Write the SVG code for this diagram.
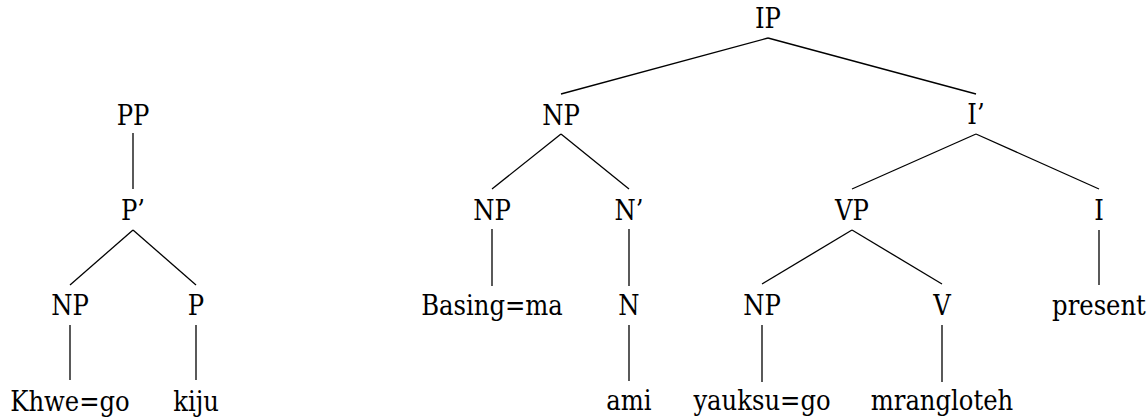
<svg xmlns="http://www.w3.org/2000/svg" width="1148" height="419" viewBox="0 0 1148 419">
  <style>
    text { font-family: "DejaVu Serif Condensed", "DejaVu Serif", serif; font-size: 27px; fill: #000; text-anchor: middle; }
    .edges line { stroke: #000; stroke-width: 1.3; fill: none; }
  </style>
  <rect width="1148" height="419" fill="#fff"/>

  <!-- connectors -->
  <g class="edges" id="edges">
    <!-- PP tree -->
    <line x1="133" y1="133" x2="133" y2="189"/>
    <line x1="133" y1="230" x2="70" y2="285"/>
    <line x1="133" y1="230" x2="196" y2="285"/>
    <line x1="70" y1="325" x2="70" y2="380"/>
    <line x1="196" y1="325" x2="196" y2="380"/>
    <!-- IP tree -->
    <line x1="768" y1="38" x2="561" y2="94"/>
    <line x1="768" y1="38" x2="976" y2="94"/>
    <line x1="561" y1="134" x2="492" y2="189"/>
    <line x1="561" y1="134" x2="629" y2="189"/>
    <line x1="976" y1="134" x2="852" y2="189"/>
    <line x1="976" y1="134" x2="1099" y2="189"/>
    <line x1="492" y1="229" x2="492" y2="286"/>
    <line x1="629" y1="229" x2="629" y2="286"/>
    <line x1="852" y1="230" x2="762" y2="284"/>
    <line x1="852" y1="230" x2="942" y2="284"/>
    <line x1="1099" y1="230" x2="1099" y2="285"/>
    <line x1="629" y1="325" x2="629" y2="381"/>
    <line x1="762" y1="325" x2="762" y2="382"/>
    <line x1="942" y1="325" x2="942" y2="382"/>
  </g>

  <!-- PP tree nodes -->
  <g id="pp"><text x="133" y="125">PP</text></g>
  <g id="p-bar"><text x="133" y="220">P’</text></g>
  <g id="pp-np"><text x="70" y="315">NP</text></g>
  <g id="pp-p"><text x="196" y="315">P</text></g>
  <g id="khwe"><text x="70" y="411">Khwe=go</text></g>
  <g id="kiju"><text x="196" y="411">kiju</text></g>

  <!-- IP tree nodes -->
  <g id="ip"><text x="768" y="28">IP</text></g>
  <g id="ip-np"><text x="561" y="125">NP</text></g>
  <g id="i-bar"><text x="976" y="124">I’</text></g>
  <g id="np-np"><text x="492" y="220">NP</text></g>
  <g id="n-bar"><text x="629" y="220">N’</text></g>
  <g id="vp"><text x="852" y="220">VP</text></g>
  <g id="infl"><text x="1099" y="220">I</text></g>
  <g id="basing"><text x="492" y="315">Basing=ma</text></g>
  <g id="noun"><text x="629" y="315">N</text></g>
  <g id="vp-np"><text x="762" y="315">NP</text></g>
  <g id="verb"><text x="942" y="315">V</text></g>
  <g id="present"><text x="1099" y="315">present</text></g>
  <g id="ami"><text x="629" y="410">ami</text></g>
  <g id="yauksu"><text x="762" y="410">yauksu=go</text></g>
  <g id="mrangloteh"><text x="942" y="410">mrangloteh</text></g>
</svg>
